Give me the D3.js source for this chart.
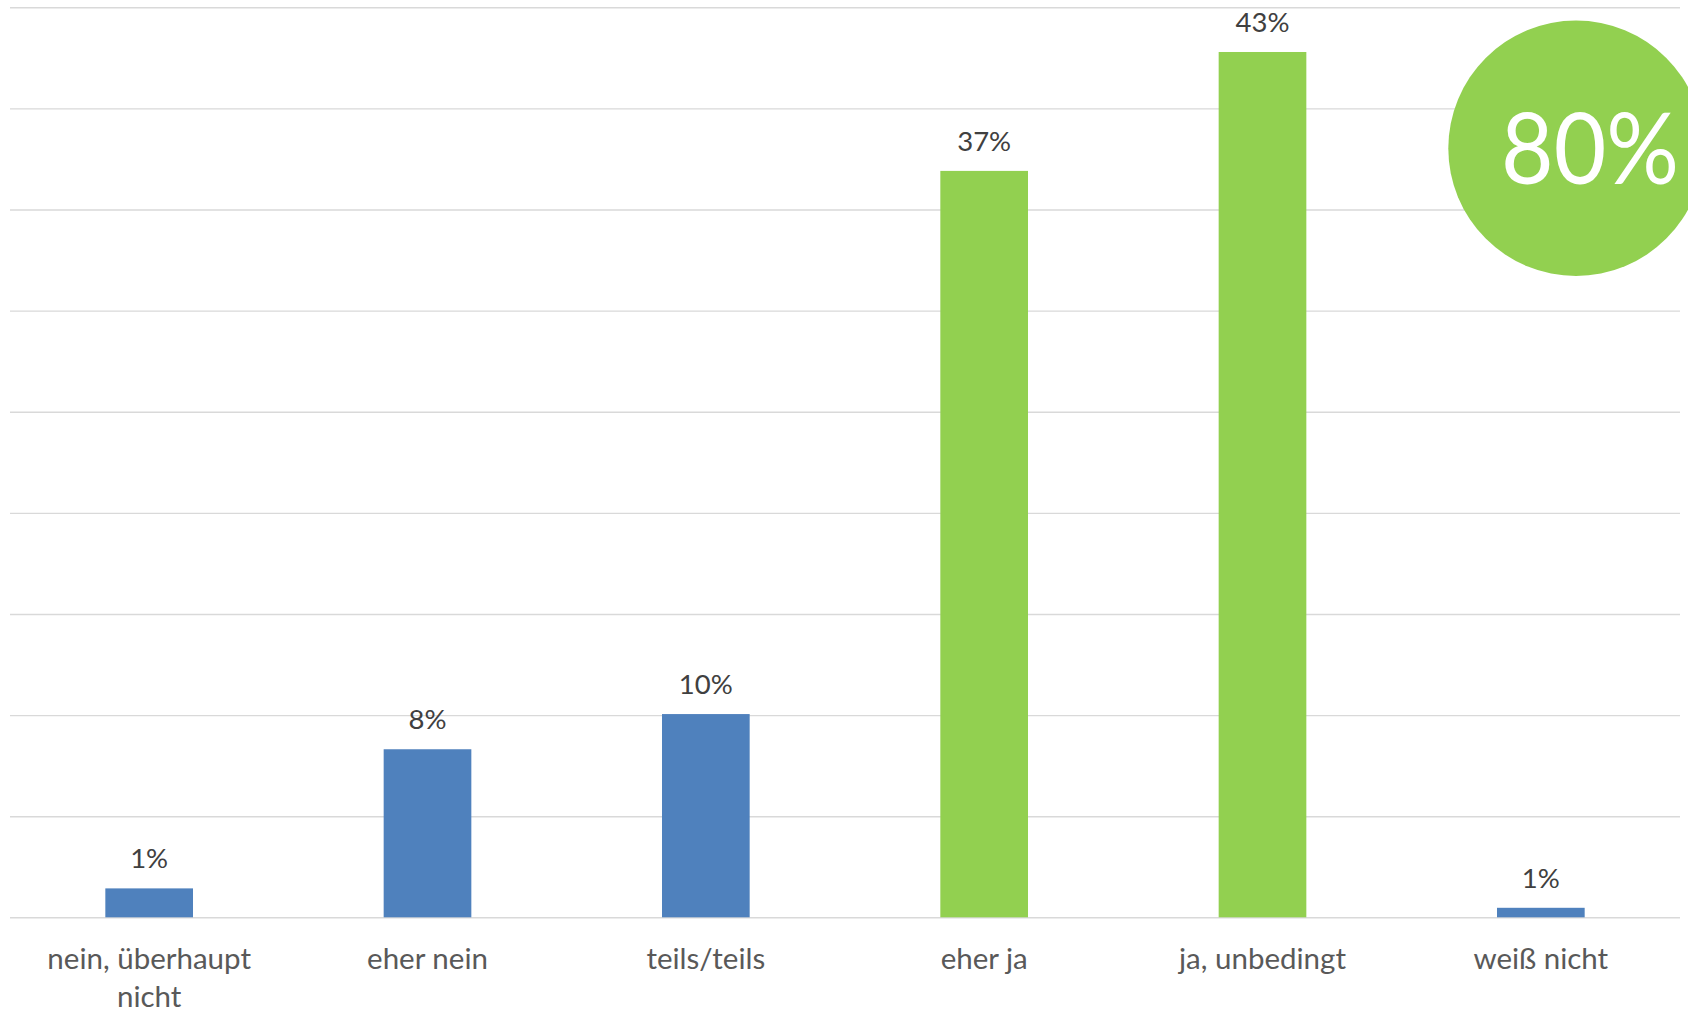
<!DOCTYPE html>
<html>
<head>
<meta charset="utf-8">
<script src="https://cdn.jsdelivr.net/npm/d3@7"></script>
<style>
  html, body { margin: 0; padding: 0; background: #ffffff; }
  svg { display: block; }
</style>
</head>
<body>
<svg id="chart" width="1688" height="1010"></svg>
<script>
// ---- data ----
const categories = [["nein, überhaupt", "nicht"], ["eher nein"], ["teils/teils"], ["eher ja"], ["ja, unbedingt"], ["weiß nicht"]];
const values = [1.43, 8.31, 10.05, 36.91, 42.79, 0.47];
const valueLabels = ["1%", "8%", "10%", "37%", "43%", "1%"];
const barGroups = ["neg", "neg", "neg", "pos", "pos", "neg"];
const gridTicks = [0, 5, 10, 15, 20, 25, 30, 35, 40, 45];
const badgeLabel = "80%";

// ---- chart ----
const svg = d3.select("#chart");
const colors = { neg: "#4F81BD", pos: "#92D050" };

const x = d3.scaleBand()
  .domain(d3.range(categories.length))
  .range([10, 1680])
  .paddingInner(0.685)
  .paddingOuter(0.3425);

const y = d3.scaleLinear().domain([0, 45]).range([917.3, 7.3]);

// gridlines
const yAxis = d3.axisLeft(y).tickValues(gridTicks).tickSize(-(1680 - 10)).tickFormat("");
const g = svg.append("g").attr("transform", "translate(10,0)").call(yAxis);
g.select(".domain").remove();
g.selectAll(".tick line").attr("stroke", "#D9D9D9").attr("stroke-width", 1.4);

// bars
svg.append("g").selectAll("rect")
  .data(values)
  .join("rect")
  .attr("x", (d, i) => x(i))
  .attr("width", x.bandwidth())
  .attr("y", d => y(d))
  .attr("height", d => y(0) - y(d))
  .attr("fill", (d, i) => colors[barGroups[i]]);

// value labels
svg.append("g").selectAll("text")
  .data(values)
  .join("text")
  .attr("x", (d, i) => x(i) + x.bandwidth() / 2)
  .attr("y", d => y(d) - 20)
  .attr("text-anchor", "middle")
  .attr("font-family", "Lato, 'Open Sans', sans-serif")
  .attr("font-size", 27.5)
  .attr("fill", "#404040")
  .text((d, i) => valueLabels[i]);

// category labels
const cat = svg.append("g").selectAll("text")
  .data(categories)
  .join("text")
  .attr("x", (d, i) => x(i) + x.bandwidth() / 2)
  .attr("y", 969)
  .attr("text-anchor", "middle")
  .attr("font-family", "Lato, 'Open Sans', sans-serif")
  .attr("font-size", 29.5)
  .attr("fill", "#595959");
cat.selectAll("tspan")
  .data(d => d)
  .join("tspan")
  .attr("x", function () { return d3.select(this.parentNode).attr("x"); })
  .attr("dy", (d, j) => j === 0 ? 0 : 37.5)
  .text(d => d);

// badge
svg.append("circle")
  .attr("cx", 1576)
  .attr("cy", 148.3)
  .attr("r", 127.7)
  .attr("fill", "#92D050");
svg.append("text")
  .attr("x", 1590)
  .attr("y", 184.3)
  .attr("text-anchor", "middle")
  .attr("font-family", "Lato, 'Open Sans', sans-serif")
  .attr("font-size", 98)
  .attr("textLength", 178)
  .attr("lengthAdjust", "spacingAndGlyphs")
  .attr("fill", "#ffffff")
  .text(badgeLabel);
</script>
</body>
</html>
